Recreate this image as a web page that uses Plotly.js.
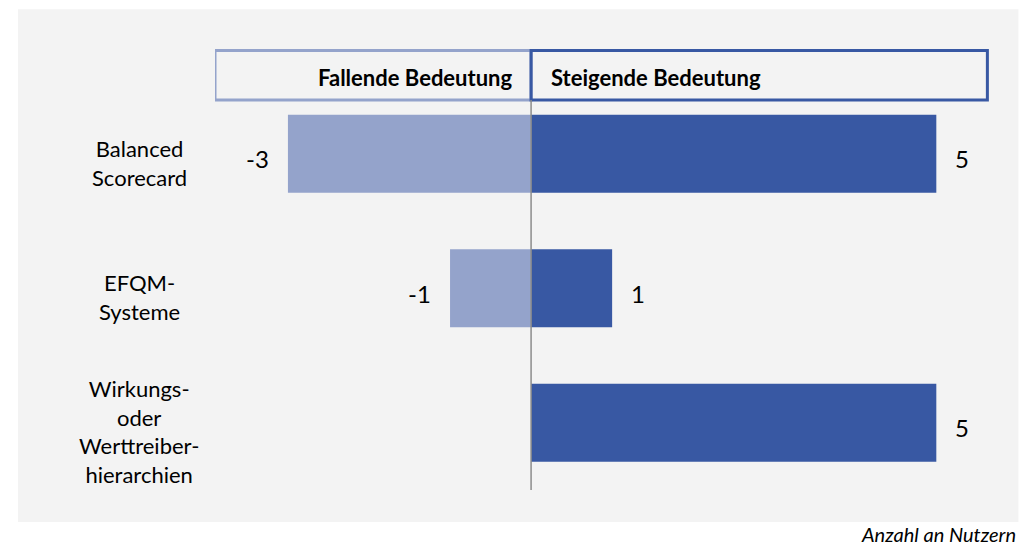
<!DOCTYPE html>
<html><head><meta charset="utf-8">
<script src="https://cdn.plot.ly/plotly-3.0.1.min.js"></script>
<style>html,body{margin:0;padding:0;background:#fff}#chart{width:1029px;height:545px}</style>
</head><body><div id="chart"></div>
<script>
var categories = ["Balanced<br>Scorecard", "EFQM-<br>Systeme", "Wirkungs-<br>oder<br>Werttreiber-<br>hierarchien"];
var fallend = [-3, -1, null];
var steigend = [5, 1, 5];
var headerLeft = "Fallende Bedeutung";
var headerRight = "Steigende Bedeutung";
var footnote = "Anzahl an Nutzern";

var FONT = "Lato, 'Open Sans', sans-serif";
var lightBlue = "#94a3cb", darkBlue = "#3858a3";
var idx = categories.map(function(_, i){ return i; });

var traces = [
  {type:'bar', orientation:'h', y: idx, x: fallend, marker:{color: lightBlue}, width:0.58, hoverinfo:'skip'},
  {type:'bar', orientation:'h', y: idx, x: steigend, marker:{color: darkBlue}, width:0.58, hoverinfo:'skip'}
];

var ann = [];
idx.forEach(function(i){
  ann.push({xref:'paper', yref:'y', x:-0.098, y:i, text:categories[i], showarrow:false,
    xanchor:'center', yanchor:'middle', align:'center', yshift:-9, font:{family:FONT, size:22, color:'#000'}});
  if (fallend[i] !== null) ann.push({xref:'x', yref:'y', x:fallend[i], y:i, text:String(fallend[i]), showarrow:false,
    xanchor:'right', xshift:-17, yshift:-5, font:{family:FONT, size:24, color:'#000'}});
  if (steigend[i] !== null) ann.push({xref:'x', yref:'y', x:steigend[i], y:i, text:String(steigend[i]), showarrow:false,
    xanchor:'left', xshift:17, yshift:-5, font:{family:FONT, size:24, color:'#000'}});
});
ann.push({xref:'x', yref:'paper', x:0, y:1.058, text:'<b>'+headerLeft+'</b>', showarrow:false,
  xanchor:'right', yanchor:'middle', xshift:-16, font:{family:FONT, size:22, color:'#000'}});
ann.push({xref:'x', yref:'paper', x:0, y:1.058, text:'<b>'+headerRight+'</b>', showarrow:false,
  xanchor:'left', yanchor:'middle', xshift:18, font:{family:FONT, size:22, color:'#000'}});
ann.push({xref:'paper', yref:'paper', x:1.037, y:-0.112, text:'<i>'+footnote+'</i>', showarrow:false,
  xanchor:'right', yanchor:'middle', font:{family:FONT, size:20, color:'#000'}});

var shapes = [
  {type:'rect', xref:'paper', yref:'paper', x0:-0.2545, x1:1.038, y0:-0.082, y1:1.233,
   fillcolor:'#f3f3f3', line:{width:0}, layer:'below'},
  {type:'rect', xref:'x', yref:'paper', x0:-3.9, x1:0, y0:1.0, y1:1.127,
   fillcolor:'rgba(0,0,0,0)', line:{color:lightBlue, width:3}, layer:'above'},
  {type:'rect', xref:'x', yref:'paper', x0:0, x1:5.63, y0:1.0, y1:1.127,
   fillcolor:'rgba(0,0,0,0)', line:{color:darkBlue, width:3}, layer:'above'},
  {type:'line', xref:'x', yref:'paper', x0:0, x1:0, y0:0, y1:1.0,
   line:{color:'#8c8c8c', width:1.5}, layer:'above'}
];

var layout = {
  width:1029, height:545,
  margin:{l:215, r:40, t:100, b:55},
  paper_bgcolor:'#ffffff', plot_bgcolor:'rgba(0,0,0,0)',
  barmode:'relative', showlegend:false,
  xaxis:{range:[-3.9, 5.65], showgrid:false, zeroline:false, showticklabels:false, ticks:'', showline:false, fixedrange:true},
  yaxis:{range:[2.5, -0.4], showgrid:false, zeroline:false, showticklabels:false, ticks:'', showline:false, fixedrange:true},
  annotations: ann, shapes: shapes
};
Plotly.newPlot('chart', traces, layout, {staticPlot:true, displayModeBar:false});
</script></body></html>
